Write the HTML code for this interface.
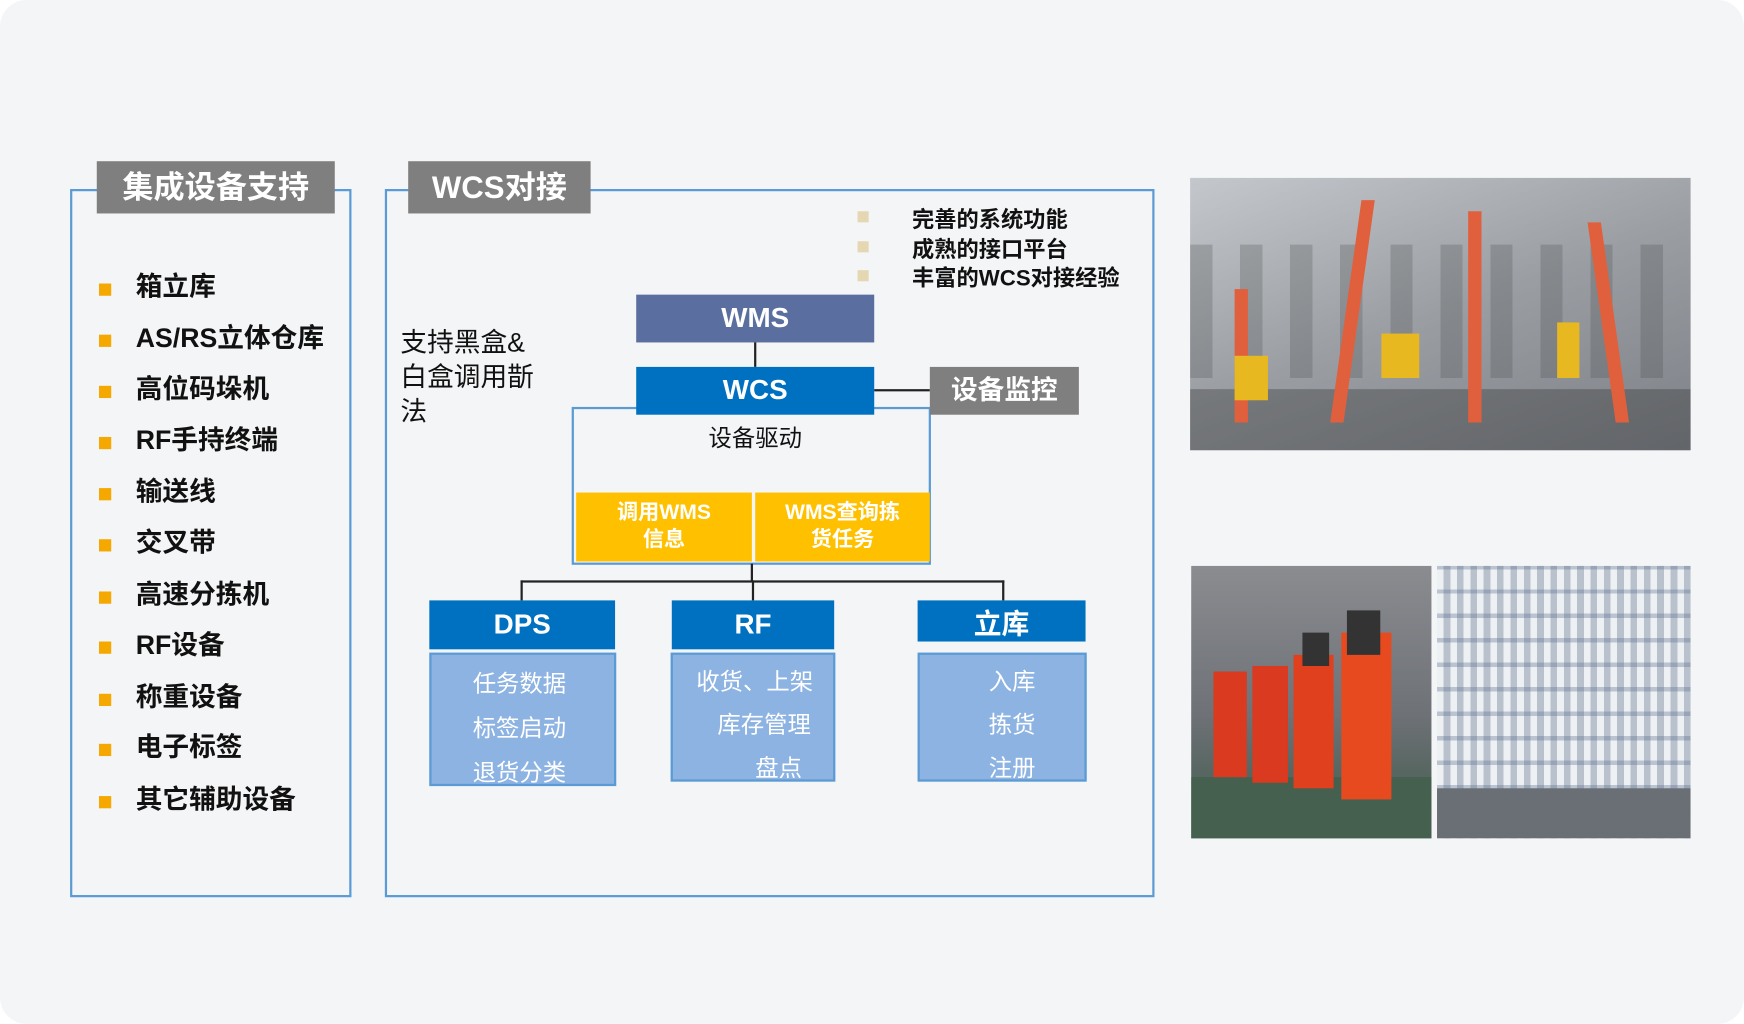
<!DOCTYPE html>
<html><head><meta charset="utf-8"><style>
*{margin:0;padding:0;box-sizing:border-box}
html,body{width:1744px;height:1024px;overflow:hidden;background:#fff}
#w{width:1568px;height:921px;transform:scale(1.11224,1.11183);transform-origin:0 0;position:relative;background:#f4f5f7;border-radius:24px;font-family:"Liberation Sans","Noto Sans CJK SC",sans-serif}
.a{position:absolute}
.panel{position:absolute;border:2px solid #5b9bd5}
.title{position:absolute;background:#7f7f7f;color:#fff;font-weight:bold;font-size:28px;text-align:center;line-height:47px}
.li{position:absolute;left:122px;font-size:24px;font-weight:bold;color:#111;line-height:30px}
.sq{position:absolute;left:89px;width:11px;height:11px;background:#f5a800}
.sq2{position:absolute;left:771px;width:10px;height:10px;background:#e6d7b3}
.b{position:absolute;font-size:20px;font-weight:bold;color:#111}
.box{position:absolute;color:#fff;font-weight:bold;text-align:center}
.ln{position:absolute;background:#222}
.body{position:absolute;background:#8db3e2;border:2px solid #5b9bd5;color:#fff;font-size:21px}
.body div{position:absolute;white-space:nowrap}
</style></head><body><div id="w">
<div class="panel" style="left:63px;top:170px;width:253px;height:637px"></div>
<div class="title" style="left:87px;top:145px;width:214px;height:47px">集成设备支持</div>
<div class="sq" style="top:255px"></div><div class="li" style="top:244px">箱立库</div>
<div class="sq" style="top:301px"></div><div class="li" style="top:290px">AS/RS立体仓库</div>
<div class="sq" style="top:347px"></div><div class="li" style="top:336px">高位码垛机</div>
<div class="sq" style="top:393px"></div><div class="li" style="top:382px">RF手持终端</div>
<div class="sq" style="top:439px"></div><div class="li" style="top:428px">输送线</div>
<div class="sq" style="top:485px"></div><div class="li" style="top:474px">交叉带</div>
<div class="sq" style="top:532px"></div><div class="li" style="top:521px">高速分拣机</div>
<div class="sq" style="top:577px"></div><div class="li" style="top:566px">RF设备</div>
<div class="sq" style="top:624px"></div><div class="li" style="top:613px">称重设备</div>
<div class="sq" style="top:669px"></div><div class="li" style="top:658px">电子标签</div>
<div class="sq" style="top:716px"></div><div class="li" style="top:705px">其它辅助设备</div>

<div class="panel" style="left:346px;top:170px;width:692px;height:637px"></div>
<div class="title" style="left:367px;top:145px;width:164px;height:47px">WCS对接</div>
<div class="sq2" style="top:190px"></div><div class="b" style="left:820px;top:181px">完善的系统功能</div>
<div class="sq2" style="top:217px"></div><div class="b" style="left:820px;top:208px">成熟的接口平台</div>
<div class="sq2" style="top:243px"></div><div class="b" style="left:820px;top:234px">丰富的WCS对接经验</div>
<div class="a" style="left:360px;top:293px;font-size:24px;line-height:31px;color:#111;width:140px">支持黑盒&amp;<br>白盒调用斮<br>法</div>

<div class="box" style="left:572px;top:265px;width:214px;height:43px;background:#5a6fa0;font-size:25px;line-height:43px">WMS</div>
<div class="ln" style="left:678px;top:308px;width:2px;height:22px"></div>
<div class="a" style="left:514px;top:366px;width:323px;height:142px;border:2px solid #5b9bd5"></div>
<div class="box" style="left:572px;top:330px;width:214px;height:43px;background:#0070c0;font-size:25px;line-height:43px">WCS</div>
<div class="ln" style="left:786px;top:350px;width:50px;height:2px"></div>
<div class="box" style="left:836px;top:330px;width:134px;height:43px;background:#7f7f7f;font-size:24px;line-height:43px">设备监控</div>
<div class="a" style="left:614px;top:378px;width:130px;text-align:center;font-size:21px;color:#111">设备驱动</div>
<div class="box" style="left:518px;top:443px;width:158px;height:62px;background:#ffc000;font-size:19px;line-height:24px;padding-top:7px">调用WMS<br>信息</div>
<div class="box" style="left:679px;top:443px;width:157px;height:62px;background:#ffc000;font-size:19px;line-height:24px;padding-top:7px">WMS查询拣<br>货任务</div>
<div class="ln" style="left:675px;top:507px;width:2px;height:16px"></div>
<div class="ln" style="left:468px;top:522px;width:435px;height:2px"></div>
<div class="ln" style="left:468px;top:522px;width:2px;height:18px"></div>
<div class="ln" style="left:676px;top:522px;width:2px;height:18px"></div>
<div class="ln" style="left:901px;top:522px;width:2px;height:18px"></div>

<div class="box" style="left:386px;top:540px;width:167px;height:44px;background:#0070c0;font-size:25px;line-height:44px">DPS</div>
<div class="body" style="left:386px;top:587px;width:168px;height:120px"><div style="left:37px;top:10px">任务数据</div><div style="left:37px;top:50px">标签启动</div><div style="left:37px;top:90px">退货分类</div></div>
<div class="box" style="left:604px;top:540px;width:146px;height:44px;background:#0070c0;font-size:25px;line-height:44px">RF</div>
<div class="body" style="left:603px;top:587px;width:148px;height:116px"><div style="left:21px;top:8px">收货、上架</div><div style="left:40px;top:47px">库存管理</div><div style="left:74px;top:86px">盘点</div></div>
<div class="box" style="left:825px;top:540px;width:151px;height:37px;background:#0070c0;font-size:25px;line-height:44px">立库</div>
<div class="body" style="left:825px;top:587px;width:152px;height:116px"><div style="left:62px;top:8px">入库</div><div style="left:62px;top:47px">拣货</div><div style="left:62px;top:86px">注册</div></div>

<div class="a" style="left:1070px;top:160px;width:450px;height:245px;background:linear-gradient(160deg,#c4c8cc,#9a9ea3 50%,#7d8187);overflow:hidden">
<div class="a" style="left:0;top:190px;width:450px;height:55px;background:rgba(50,50,50,.35)"></div>
<div class="a" style="left:0;top:60px;width:450px;height:120px;background:repeating-linear-gradient(90deg,rgba(70,70,70,.25) 0 20px,transparent 20px 45px)"></div>
<div class="a" style="left:140px;top:20px;width:12px;height:200px;background:#e0603e;transform:skewX(-8deg)"></div>
<div class="a" style="left:250px;top:30px;width:12px;height:190px;background:#e0603e"></div>
<div class="a" style="left:370px;top:40px;width:12px;height:180px;background:#e0603e;transform:skewX(8deg)"></div>
<div class="a" style="left:40px;top:100px;width:12px;height:120px;background:#e0603e"></div>
<div class="a" style="left:172px;top:140px;width:34px;height:40px;background:#e8b820"></div>
<div class="a" style="left:40px;top:160px;width:30px;height:40px;background:#e8b820"></div>
<div class="a" style="left:330px;top:130px;width:20px;height:50px;background:#e8b820"></div>
</div>
<div class="a" style="left:1071px;top:509px;width:216px;height:245px;background:linear-gradient(#8a8c90,#6e7176 55%,#3d5a4a);overflow:hidden">
<div class="a" style="left:0;top:190px;width:216px;height:55px;background:#46604f"></div>
<div class="a" style="left:20px;top:95px;width:30px;height:95px;background:#d93a20"></div>
<div class="a" style="left:55px;top:90px;width:32px;height:105px;background:#d93a20"></div>
<div class="a" style="left:92px;top:80px;width:36px;height:120px;background:#e0401e"></div>
<div class="a" style="left:135px;top:60px;width:45px;height:150px;background:#e84a20"></div>
<div class="a" style="left:140px;top:40px;width:30px;height:40px;background:#333"></div>
<div class="a" style="left:100px;top:60px;width:24px;height:30px;background:#333"></div>
</div>
<div class="a" style="left:1292px;top:509px;width:228px;height:245px;background:repeating-linear-gradient(90deg,#eef1f3 0 6px,#b9c2cc 6px 12px),#dde;overflow:hidden">
<div class="a" style="left:0;top:0;width:228px;height:245px;background:repeating-linear-gradient(0deg,rgba(90,110,140,.35) 0 4px,transparent 4px 22px)"></div>
<div class="a" style="left:0;top:200px;width:228px;height:45px;background:#6a6f75"></div>
</div>
</div></body></html>
